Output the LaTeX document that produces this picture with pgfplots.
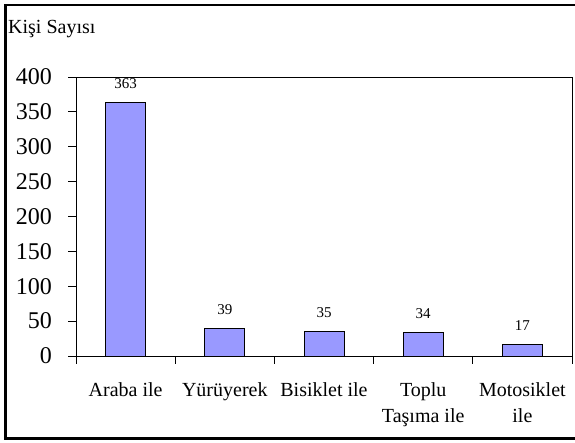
\documentclass[border=0pt]{standalone}
\usepackage{pgfplots}
\pgfplotsset{compat=1.18}
\usepackage{fontspec}
\setmainfont{Liberation Serif}
\definecolor{barfill}{RGB}{153,153,255}
\begin{document}
\begin{tikzpicture}
\begin{axis}[
  at={(0pt,0pt)}, anchor=south west,
  scale only axis, width=496pt, height=279pt,
  xmin=0.5, xmax=5.5, ymin=0, ymax=400,
  ytick={0,50,...,400},
  xtick={0.5,1.5,...,5.5},
  xtick pos=bottom, ytick pos=left,
  x tick label as interval,
  xticklabels={Araba ile,Yürüyerek,Bisiklet ile,{Toplu\\Taşıma ile},{Motosiklet\\ile}},
  /pgf/number format/assume math mode=true,
  tick align=outside, major tick length=8pt,
  tick style={black, line width=0.8pt},
  axis line style={black, line width=0.8pt},
  yticklabel style={font=\fontsize{24}{28}\selectfont, inner sep=0pt, xshift=-16pt},
  xticklabel style={font=\fontsize{20}{26.5}\selectfont, align=center, anchor=north, inner sep=0pt, yshift=-18pt},
  ybar, bar width=40pt,
  nodes near coords,
  nodes near coords style={font=\fontsize{15}{17}\selectfont, anchor=base, inner sep=0pt, yshift=14pt},
  clip=false,
]
\addplot[fill=barfill, draw=black, line width=0.7pt] coordinates {(1,363) (2,39) (3,35) (4,34) (5,17)};
\end{axis}
\node[anchor=base west, inner sep=0pt, font=\fontsize{20}{24}\selectfont] at (-68pt, 322.5pt) {Kişi Sayısı};
\draw[line width=2.5pt] (501pt,351pt) -- (-70.5pt,351pt) -- (-70.5pt,-82.5pt) -- (501pt,-82.5pt);
\pgfresetboundingbox
\path (-76pt,-87pt) rectangle (499pt,356pt);
\end{tikzpicture}
\end{document}
